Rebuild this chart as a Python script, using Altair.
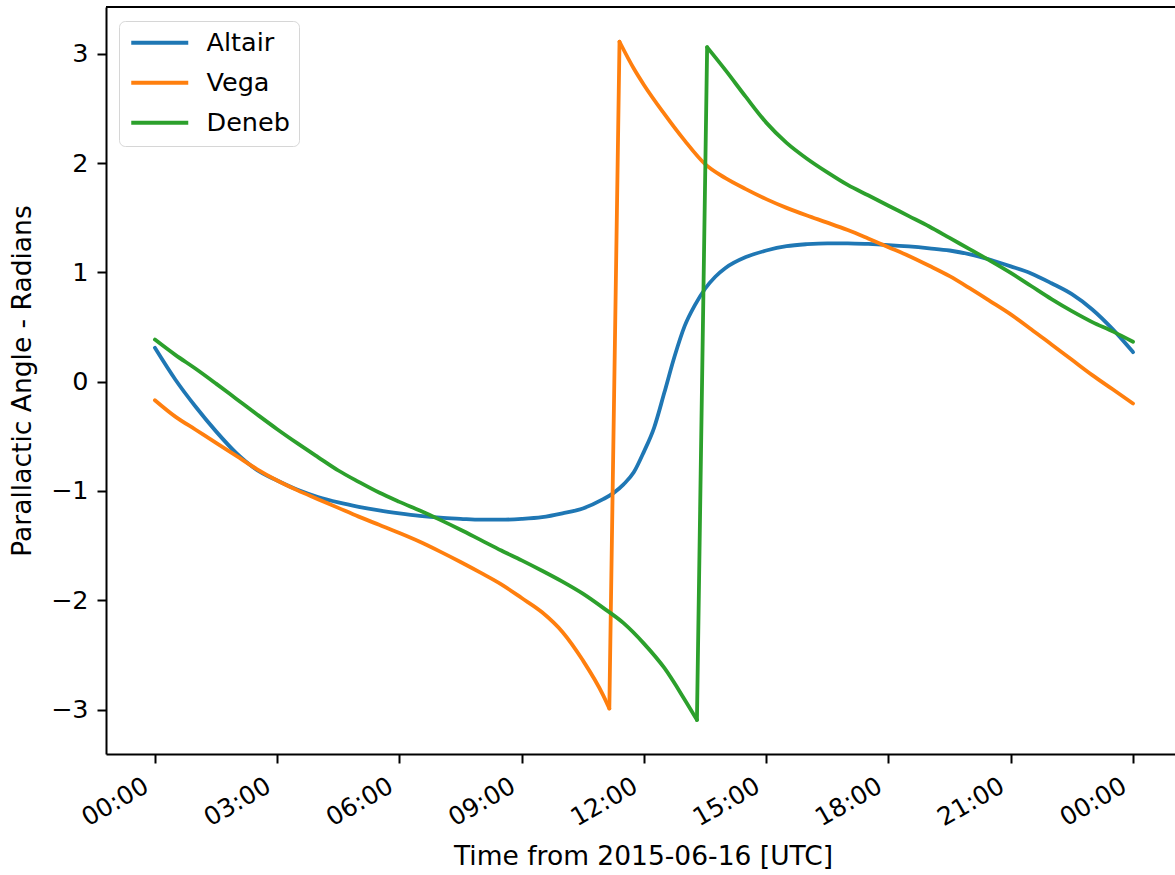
import altair as alt
import pandas as pd

# Parallactic angle (radians) of three sources over one UTC day, sampled in hours
altair_hours = [0, 0.5, 1, 1.5, 2, 2.5, 3, 3.5, 4, 4.5, 5, 5.5, 6, 6.5, 7, 7.5, 8, 8.5, 9, 9.5, 10, 10.5, 11,
                11.25, 11.5, 11.75, 12, 12.25, 12.5, 12.75, 13, 13.25, 13.5, 13.75, 14,
                14.5, 15, 15.5, 16, 16.5, 17, 17.5, 18, 18.5, 19, 19.5, 20, 20.5, 21, 21.5, 22, 22.5, 23, 23.5, 24]
altair_angle = [0.31, 0.02, -0.23, -0.455, -0.655, -0.808, -0.905, -0.99, -1.055, -1.105, -1.145, -1.178,
                -1.205, -1.228, -1.245, -1.255, -1.263, -1.263, -1.256, -1.24, -1.205, -1.16, -1.075,
                -1.02, -0.94, -0.83, -0.64, -0.42, -0.1, 0.23, 0.51, 0.7, 0.85, 0.96, 1.04,
                1.14, 1.2, 1.24, 1.258, 1.266, 1.266, 1.26, 1.25, 1.237, 1.22, 1.2, 1.165, 1.115, 1.055,
                0.99, 0.9, 0.8, 0.66, 0.48, 0.27]

vega_hours = [0, 0.5, 1, 1.5, 2, 2.5, 3, 3.5, 4, 4.5, 5, 5.5, 6, 6.5, 7, 7.5, 8, 8.5, 9, 9.5, 10, 10.5, 11,
              11.15, 11.4, 11.75,
              12, 12.5, 13, 13.5, 14, 14.5, 15, 15.5, 16, 16.5, 17, 17.5, 18, 18.5, 19, 19.5, 20, 20.5,
              21, 21.5, 22, 22.5, 23, 23.5, 24]
vega_angle = [-0.17, -0.32, -0.44, -0.56, -0.68, -0.80, -0.905, -0.995, -1.075, -1.155, -1.235, -1.31,
              -1.385, -1.465, -1.555, -1.65, -1.75, -1.855, -1.98, -2.11, -2.29, -2.55, -2.87,
              -2.99, 3.11, 2.865,
              2.715, 2.45, 2.205, 1.99, 1.862, 1.762, 1.67, 1.59, 1.52, 1.455, 1.387, 1.31, 1.23, 1.15,
              1.06, 0.965, 0.853, 0.735, 0.615, 0.48, 0.34, 0.2, 0.06, -0.07, -0.2]

deneb_hours = [0, 0.5, 1, 1.5, 2, 2.5, 3, 3.5, 4, 4.5, 5, 5.5, 6, 6.5, 7, 7.5, 8, 8.5, 9, 9.5, 10, 10.5,
               11, 11.5, 12, 12.5, 13,
               13.3, 13.55,
               14, 14.5, 15, 15.5, 16, 16.5, 17, 17.5, 18, 18.5, 19, 19.5, 20, 20.5, 21, 21.5, 22, 22.5,
               23, 23.5, 24]
deneb_angle = [0.385, 0.245, 0.118, -0.018, -0.158, -0.298, -0.435, -0.565, -0.69, -0.813, -0.917,
               -1.015, -1.10, -1.18, -1.265, -1.355, -1.45, -1.545, -1.635, -1.73, -1.83, -1.94,
               -2.07, -2.21, -2.397, -2.62, -2.91,
               -3.095, 3.06,
               2.85, 2.605, 2.37, 2.185, 2.04, 1.915, 1.80, 1.705, 1.61, 1.515, 1.42, 1.315, 1.21, 1.105,
               0.995, 0.875, 0.755, 0.645, 0.545, 0.46, 0.365]

sources = ["Altair", "Vega", "Deneb"]
colors = ["#1f77b4", "#ff7f0e", "#2ca02c"]
hour_ticks = [0, 3, 6, 9, 12, 15, 18, 21, 24]
angle_ticks = [-3, -2, -1, 0, 1, 2, 3]

series = [(sources[0], altair_hours, altair_angle),
          (sources[1], vega_hours, vega_angle),
          (sources[2], deneb_hours, deneb_angle)]

# Split each curve at its wrap from -pi to +pi: the smooth runs are drawn
# with monotone interpolation, the wrap itself as a straight two-point piece.
rows = []
for name, hrs, vals in series:
    assert len(hrs) == len(vals), name
    seg = 0
    for i, (h, v) in enumerate(zip(hrs, vals)):
        if i > 0 and abs(v - vals[i - 1]) > 3:
            rows.append({"source": name, "seg": f"{name}-{seg}-wrap", "hour": hrs[i - 1], "angle": vals[i - 1]})
            rows.append({"source": name, "seg": f"{name}-{seg}-wrap", "hour": h, "angle": v})
            seg += 1
        rows.append({"source": name, "seg": f"{name}-{seg}", "hour": h, "angle": v})
df = pd.DataFrame(rows)

FONT = "DejaVu Sans"
PLOT_W = 1069
PLOT_H = 747

lines = alt.Chart(df).mark_line(strokeWidth=3.8, interpolate="monotone", strokeCap="round", strokeJoin="round").encode(
    x=alt.X(
        "hour:Q",
        title="Time from 2015-06-16 [UTC]",
        scale=alt.Scale(domain=[-1.2, 25.03], nice=False, zero=False),
        axis=alt.Axis(
            values=hour_ticks,
            labelExpr="(datum.value % 24 < 10 ? '0' : '') + (datum.value % 24) + ':00'",
            labelAngle=-30,
            labelAlign="right",
            labelBaseline="top",
            labelOffset=-15,
            labelPadding=10,
            labelFontSize=25,
            titleX=537,
            titlePadding=13,
            titleFontSize=26.5,
        ),
    ),
    y=alt.Y(
        "angle:Q",
        title="Parallactic Angle - Radians",
        scale=alt.Scale(domain=[-3.407, 3.428], nice=False, zero=False),
        axis=alt.Axis(
            values=angle_ticks,
            labelExpr="datum.value < 0 ? '\u2212' + abs(datum.value) : '' + datum.value",
            labelPadding=9,
            titlePadding=14,
            titleFontSize=26.5,
        ),
    ),
    color=alt.Color(
        "source:N",
        scale=alt.Scale(domain=sources, range=colors),
        legend=alt.Legend(
            title=None,
            orient="none",
            legendX=13,
            legendY=14,
            symbolType="M-1,0L5,0",
            symbolSize=361,
            symbolStrokeWidth=3.8,
            labelFont=FONT,
            labelFontSize=25.5,
            labelColor="black",
            labelOffset=53,
            padding=9,
            rowPadding=13,
            fillColor="white",
            strokeColor="#d6d6d6",
            cornerRadius=6,
        ),
    ),
    detail="seg:N",
)

# top edge of the axes frame
frame_top = alt.Chart(df).mark_rule(color="black", strokeWidth=2).encode(
    x=alt.value(0), x2=alt.value(PLOT_W), y=alt.value(0)
)

chart = (
    alt.layer(lines, frame_top)
    .properties(
        width=PLOT_W,
        height=PLOT_H,
        autosize=alt.AutoSizeParams(type="none"),
        padding={"left": 106, "top": 7, "right": 0, "bottom": 118},
        background="white",
    )
    .configure_view(stroke=None)
    .configure_axis(
        grid=False,
        domainColor="black",
        domainWidth=2,
        tickColor="black",
        tickWidth=2,
        tickSize=9,
        labelFont=FONT,
        labelFontSize=25.5,
        labelColor="black",
        titleFont=FONT,
        titleFontWeight="normal",
        titleColor="black",
    )
)

chart.save("out.html", embed_options={"renderer": "svg", "actions": False})
